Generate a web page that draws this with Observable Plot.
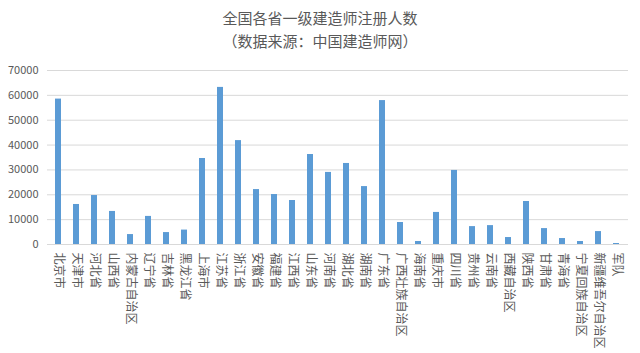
<!DOCTYPE html>
<html>
<head>
<meta charset="utf-8">
<script src="https://cdn.jsdelivr.net/npm/d3@7"></script>
<script src="https://cdn.jsdelivr.net/npm/@observablehq/plot@0.6"></script>
<style>
  html, body { margin: 0; padding: 0; background: #fff; }
  body { width: 640px; height: 353px; overflow: hidden; font-family: "Noto Sans CJK SC", sans-serif; }
  .title { text-align: center; color: #595959; font-size: 15px; line-height: 23px; height: 55px; padding-top: 6px; box-sizing: border-box; }
</style>
</head>
<body>
<div class="title">全国各省一级建造师注册人数<br>（数据来源：中国建造师网）</div>
<div id="chart"></div>
<script>
const provinces = ["北京市","天津市","河北省","山西省","内蒙古自治区","辽宁省","吉林省","黑龙江省","上海市","江苏省","浙江省","安徽省","福建省","江西省","山东省","河南省","湖北省","湖南省","广东省","广西壮族自治区","海南省","重庆市","四川省","贵州省","云南省","西藏自治区","陕西省","甘肃省","青海省","宁夏回族自治区","新疆维吾尔自治区","军队"];
const counts = [58500,16100,19700,13300,4000,11300,4800,5800,34600,63200,41800,22100,20100,17700,36200,29000,32600,23300,57900,8850,1200,12900,29800,7200,7600,2800,17300,6400,2400,1200,5200,400];
const yTicks = [0,10000,20000,30000,40000,50000,60000,70000];

const data = provinces.map((p, i) => ({province: p, count: counts[i]}));

const chart = Plot.plot({
  width: 640,
  height: 298,
  marginTop: 15,
  marginBottom: 109,
  marginLeft: 47,
  marginRight: 12,
  style: {fontFamily: "'Noto Sans CJK SC', sans-serif", fontSize: "11px", color: "#595959", background: "#fff"},
  x: {domain: provinces, paddingInner: 0.66, paddingOuter: 0.33, label: null},
  y: {domain: [0, 70000], ticks: yTicks, label: null},
  marks: [
    Plot.gridY(yTicks, {stroke: "#d9d9d9", strokeOpacity: 1}),
    Plot.axisY({ticks: yTicks, tickSize: 0, tickPadding: 9, tickFormat: d => String(d), fontSize: 11}),
    Plot.axisX({tickSize: 0, tickRotate: 90, tickPadding: 8, fontSize: 12, label: null}),
    Plot.barY(data, {x: "province", y: "count", fill: "#5b9bd5"})
  ]
});
document.getElementById("chart").appendChild(chart);
</script>
</body>
</html>
